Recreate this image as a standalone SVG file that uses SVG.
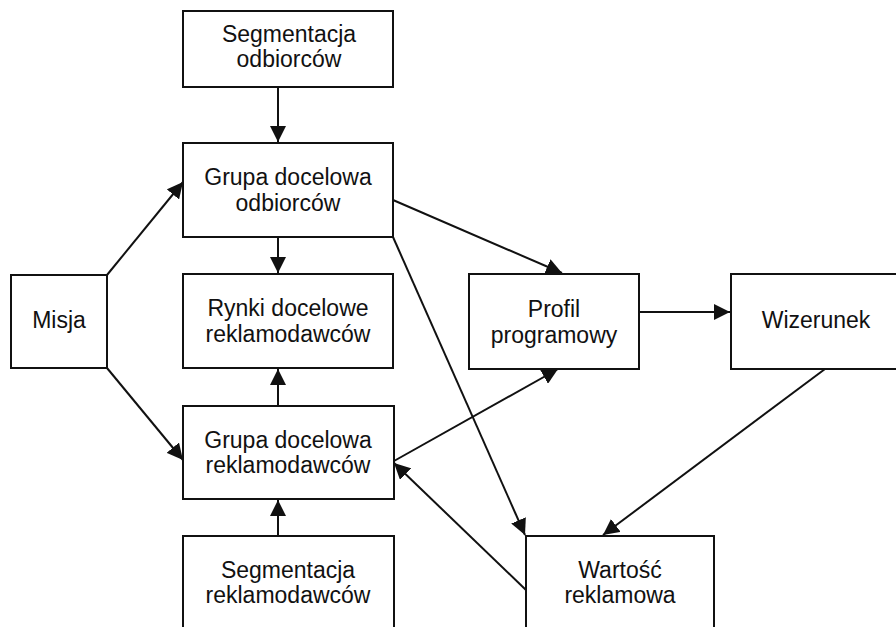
<svg xmlns="http://www.w3.org/2000/svg" width="896" height="627" viewBox="0 0 896 627">
<style>
.box{fill:#fff;stroke:#111;stroke-width:2}
.t{font-family:"Liberation Sans",Arial,sans-serif;font-size:23px;fill:#111;text-anchor:middle}
.c{stroke:#111;stroke-width:2;fill:none}
</style>
<defs>
<marker id="ah" markerUnits="userSpaceOnUse" markerWidth="18" markerHeight="16" refX="16" refY="8" orient="auto">
<path d="M0,0 L16,8 L0,16 Z" fill="#111"/>
</marker>
</defs>
<rect width="896" height="627" fill="#fff"/>
<g id="connectors">
<line class="c" x1="278" y1="87" x2="278" y2="142" marker-end="url(#ah)"/>
<line class="c" x1="278" y1="237" x2="278" y2="273" marker-end="url(#ah)"/>
<line class="c" x1="278" y1="406" x2="278" y2="369" marker-end="url(#ah)"/>
<line class="c" x1="278" y1="536" x2="278" y2="500" marker-end="url(#ah)"/>
<line class="c" x1="107" y1="275" x2="183" y2="182" marker-end="url(#ah)"/>
<line class="c" x1="107" y1="368" x2="183" y2="460" marker-end="url(#ah)"/>
<line class="c" x1="393" y1="200" x2="562" y2="273" marker-end="url(#ah)"/>
<line class="c" x1="393" y1="237" x2="525" y2="535" marker-end="url(#ah)"/>
<line class="c" x1="394" y1="461" x2="558" y2="369" marker-end="url(#ah)"/>
<line class="c" x1="526" y1="590" x2="394" y2="463" marker-end="url(#ah)"/>
<line class="c" x1="639" y1="312" x2="730" y2="312" marker-end="url(#ah)"/>
<line class="c" x1="825" y1="369" x2="603" y2="535" marker-end="url(#ah)"/>
</g>
<g id="seg-odb"><rect class="box" x="183" y="11" width="210" height="76"/><text class="t" x="289" y="42">Segmentacja</text><text class="t" x="289" y="67">odbiorców</text></g>
<g id="grupa-odb"><rect class="box" x="183" y="143" width="210" height="94"/><text class="t" x="288" y="185">Grupa docelowa</text><text class="t" x="288" y="211">odbiorców</text></g>
<g id="misja"><rect class="box" x="11" y="275" width="96" height="93"/><text class="t" x="59" y="328">Misja</text></g>
<g id="rynki"><rect class="box" x="183" y="274" width="210" height="94"/><text class="t" x="288" y="316">Rynki docelowe</text><text class="t" x="288" y="342">reklamodawców</text></g>
<g id="grupa-rekl"><rect class="box" x="183" y="406" width="211" height="93"/><text class="t" x="288" y="448">Grupa docelowa</text><text class="t" x="288" y="473">reklamodawców</text></g>
<g id="seg-rekl"><rect class="box" x="183" y="536" width="211" height="100"/><text class="t" x="288" y="578">Segmentacja</text><text class="t" x="288" y="603">reklamodawców</text></g>
<g id="profil"><rect class="box" x="469" y="274" width="170" height="95"/><text class="t" x="554" y="317">Profil</text><text class="t" x="554" y="343">programowy</text></g>
<g id="wizerunek"><rect class="box" x="731" y="274" width="170" height="95"/><text class="t" x="816" y="328">Wizerunek</text></g>
<g id="wartosc"><rect class="box" x="526" y="536" width="188" height="100"/><text class="t" x="620" y="578">Wartość</text><text class="t" x="620" y="603">reklamowa</text></g>
</svg>
